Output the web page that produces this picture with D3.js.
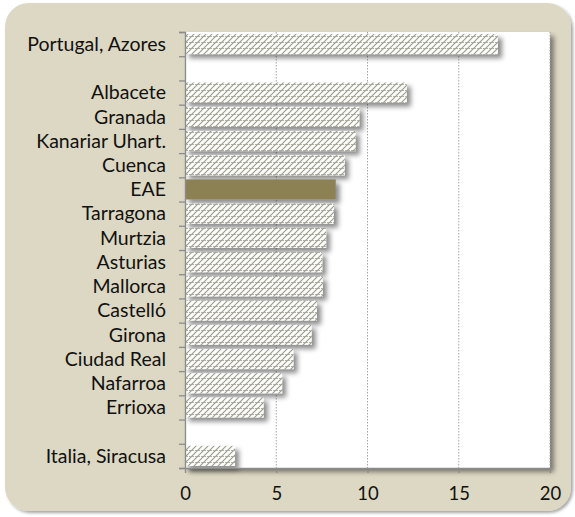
<!DOCTYPE html>
<html lang="en">
<head>
    <meta charset="UTF-8">
    <title>Bar chart</title>
    <script src="https://d3js.org/d3.v7.min.js"></script>
    <style>
        body {
            margin: 0;
            padding: 0;
            background-color: #ffffff;
        }
        .lbl {
            font-family: Lato, "Open Sans", sans-serif;
            font-size: 19.5px;
            fill: #111;
        }
    </style>
</head>
<body>
    <svg id="chart" width="575" height="517"></svg>

    <script>
        // categories top to bottom, "" / " " are empty gap rows
        const categories = ["Portugal, Azores", "", "Albacete", "Granada", "Kanariar Uhart.", "Cuenca", "EAE",
            "Tarragona", "Murtzia", "Asturias", "Mallorca", "Castelló", "Girona", "Ciudad Real",
            "Nafarroa", "Errioxa", " ", "Italia, Siracusa"];
        const values = [17.15, null, 12.15, 9.55, 9.35, 8.75, 8.26,
            8.16, 7.73, 7.52, 7.55, 7.23, 6.94, 5.94,
            5.32, 4.31, null, 2.74];
        const highlight = "EAE";
        const xTicks = [0, 5, 10, 15, 20];

        const svg = d3.select("#chart");
        const defs = svg.append("defs");

        // drop shadows
        const sh = defs.append("filter").attr("id", "shadow")
            .attr("x", "-10%").attr("y", "-30%").attr("width", "130%").attr("height", "180%");
        sh.append("feDropShadow").attr("dx", 4).attr("dy", 4).attr("stdDeviation", 2.5)
            .attr("flood-color", "#000").attr("flood-opacity", 0.45);

        const fsh = defs.append("filter").attr("id", "frameShadow")
            .attr("x", "-5%").attr("y", "-5%").attr("width", "110%").attr("height", "110%");
        fsh.append("feDropShadow").attr("dx", 2).attr("dy", 2).attr("stdDeviation", 1.5)
            .attr("flood-color", "#000").attr("flood-opacity", 0.35);

        // weave pattern
        const pat = defs.append("pattern").attr("id", "weave")
            .attr("patternUnits", "userSpaceOnUse").attr("width", 6).attr("height", 6);
        pat.append("rect").attr("width", 6).attr("height", 6).attr("fill", "#fdfdfb");
        pat.append("path").attr("d", "M0,6 L6,0 M-1,1 L1,-1 M5,7 L7,5")
            .attr("stroke", "#9a9a8c").attr("stroke-width", 1.1);
        pat.append("path").attr("d", "M0,0.5 H6")
            .attr("stroke", "#a9a99d").attr("stroke-width", 0.9)
            .attr("stroke-dasharray", "2,1");

        // background frame
        svg.append("rect")
            .attr("x", 5).attr("y", 3).attr("width", 566).attr("height", 508)
            .attr("rx", 24)
            .attr("fill", "#ddd8c3")
            .attr("filter", "url(#frameShadow)");

        const x = d3.scaleLinear().domain([0, 20]).range([185, 550]);
        const y = d3.scaleBand().domain(categories).range([32, 468])
            .paddingInner(0.17).paddingOuter(0.085);
        const slots = d3.scaleLinear().domain([0, categories.length]).range([32, 468]);

        // plot area
        svg.append("rect")
            .attr("x", x(0)).attr("y", 32)
            .attr("width", x(20) - x(0)).attr("height", 436)
            .attr("fill", "#ffffff")
            .attr("filter", "url(#shadow)");

        // vertical grid
        svg.append("g")
            .selectAll("line")
            .data(xTicks.slice(1))
            .enter()
            .append("line")
            .attr("x1", d => x(d)).attr("x2", d => x(d))
            .attr("y1", 32).attr("y2", 468)
            .attr("stroke", "#a6a6a6")
            .attr("stroke-width", 1)
            .attr("stroke-dasharray", "1.5,1.5");

        // bars
        const rows = categories.map((c, i) => ({ cat: c, val: values[i] })).filter(d => d.val != null);
        svg.append("g")
            .selectAll("rect")
            .data(rows)
            .enter()
            .append("rect")
            .attr("x", x(0))
            .attr("y", d => y(d.cat))
            .attr("width", d => x(d.val) - x(0))
            .attr("height", y.bandwidth())
            .attr("fill", d => d.cat === highlight ? "#8b8152" : "url(#weave)")
            .attr("filter", "url(#shadow)");

        // y axis: boundary ticks
        const yAxis = svg.append("g")
            .attr("transform", `translate(${x(0)},0)`)
            .call(d3.axisLeft(slots).tickValues(d3.range(0, categories.length + 1))
                .tickSize(6).tickFormat(""));
        yAxis.selectAll("path, line").attr("stroke", "#8c8c8c").attr("stroke-width", 1.3);

        // y labels
        svg.append("g")
            .selectAll("text")
            .data(categories.filter(c => c.trim() !== ""))
            .enter()
            .append("text")
            .attr("class", "lbl")
            .attr("x", 166)
            .attr("y", d => y(d) + y.bandwidth() / 2)
            .attr("dy", "0.35em")
            .attr("text-anchor", "end")
            .text(d => d);

        // x axis
        const xAxis = svg.append("g")
            .attr("transform", "translate(0,468)")
            .call(d3.axisBottom(x).tickValues(xTicks).tickSize(5).tickPadding(14)
                .tickSizeOuter(0));
        xAxis.selectAll("path, line").attr("stroke", "#8c8c8c").attr("stroke-width", 1.3);
        xAxis.selectAll("text")
            .attr("class", "lbl")
            .style("font-size", "18.5px");
    </script>
</body>
</html>
